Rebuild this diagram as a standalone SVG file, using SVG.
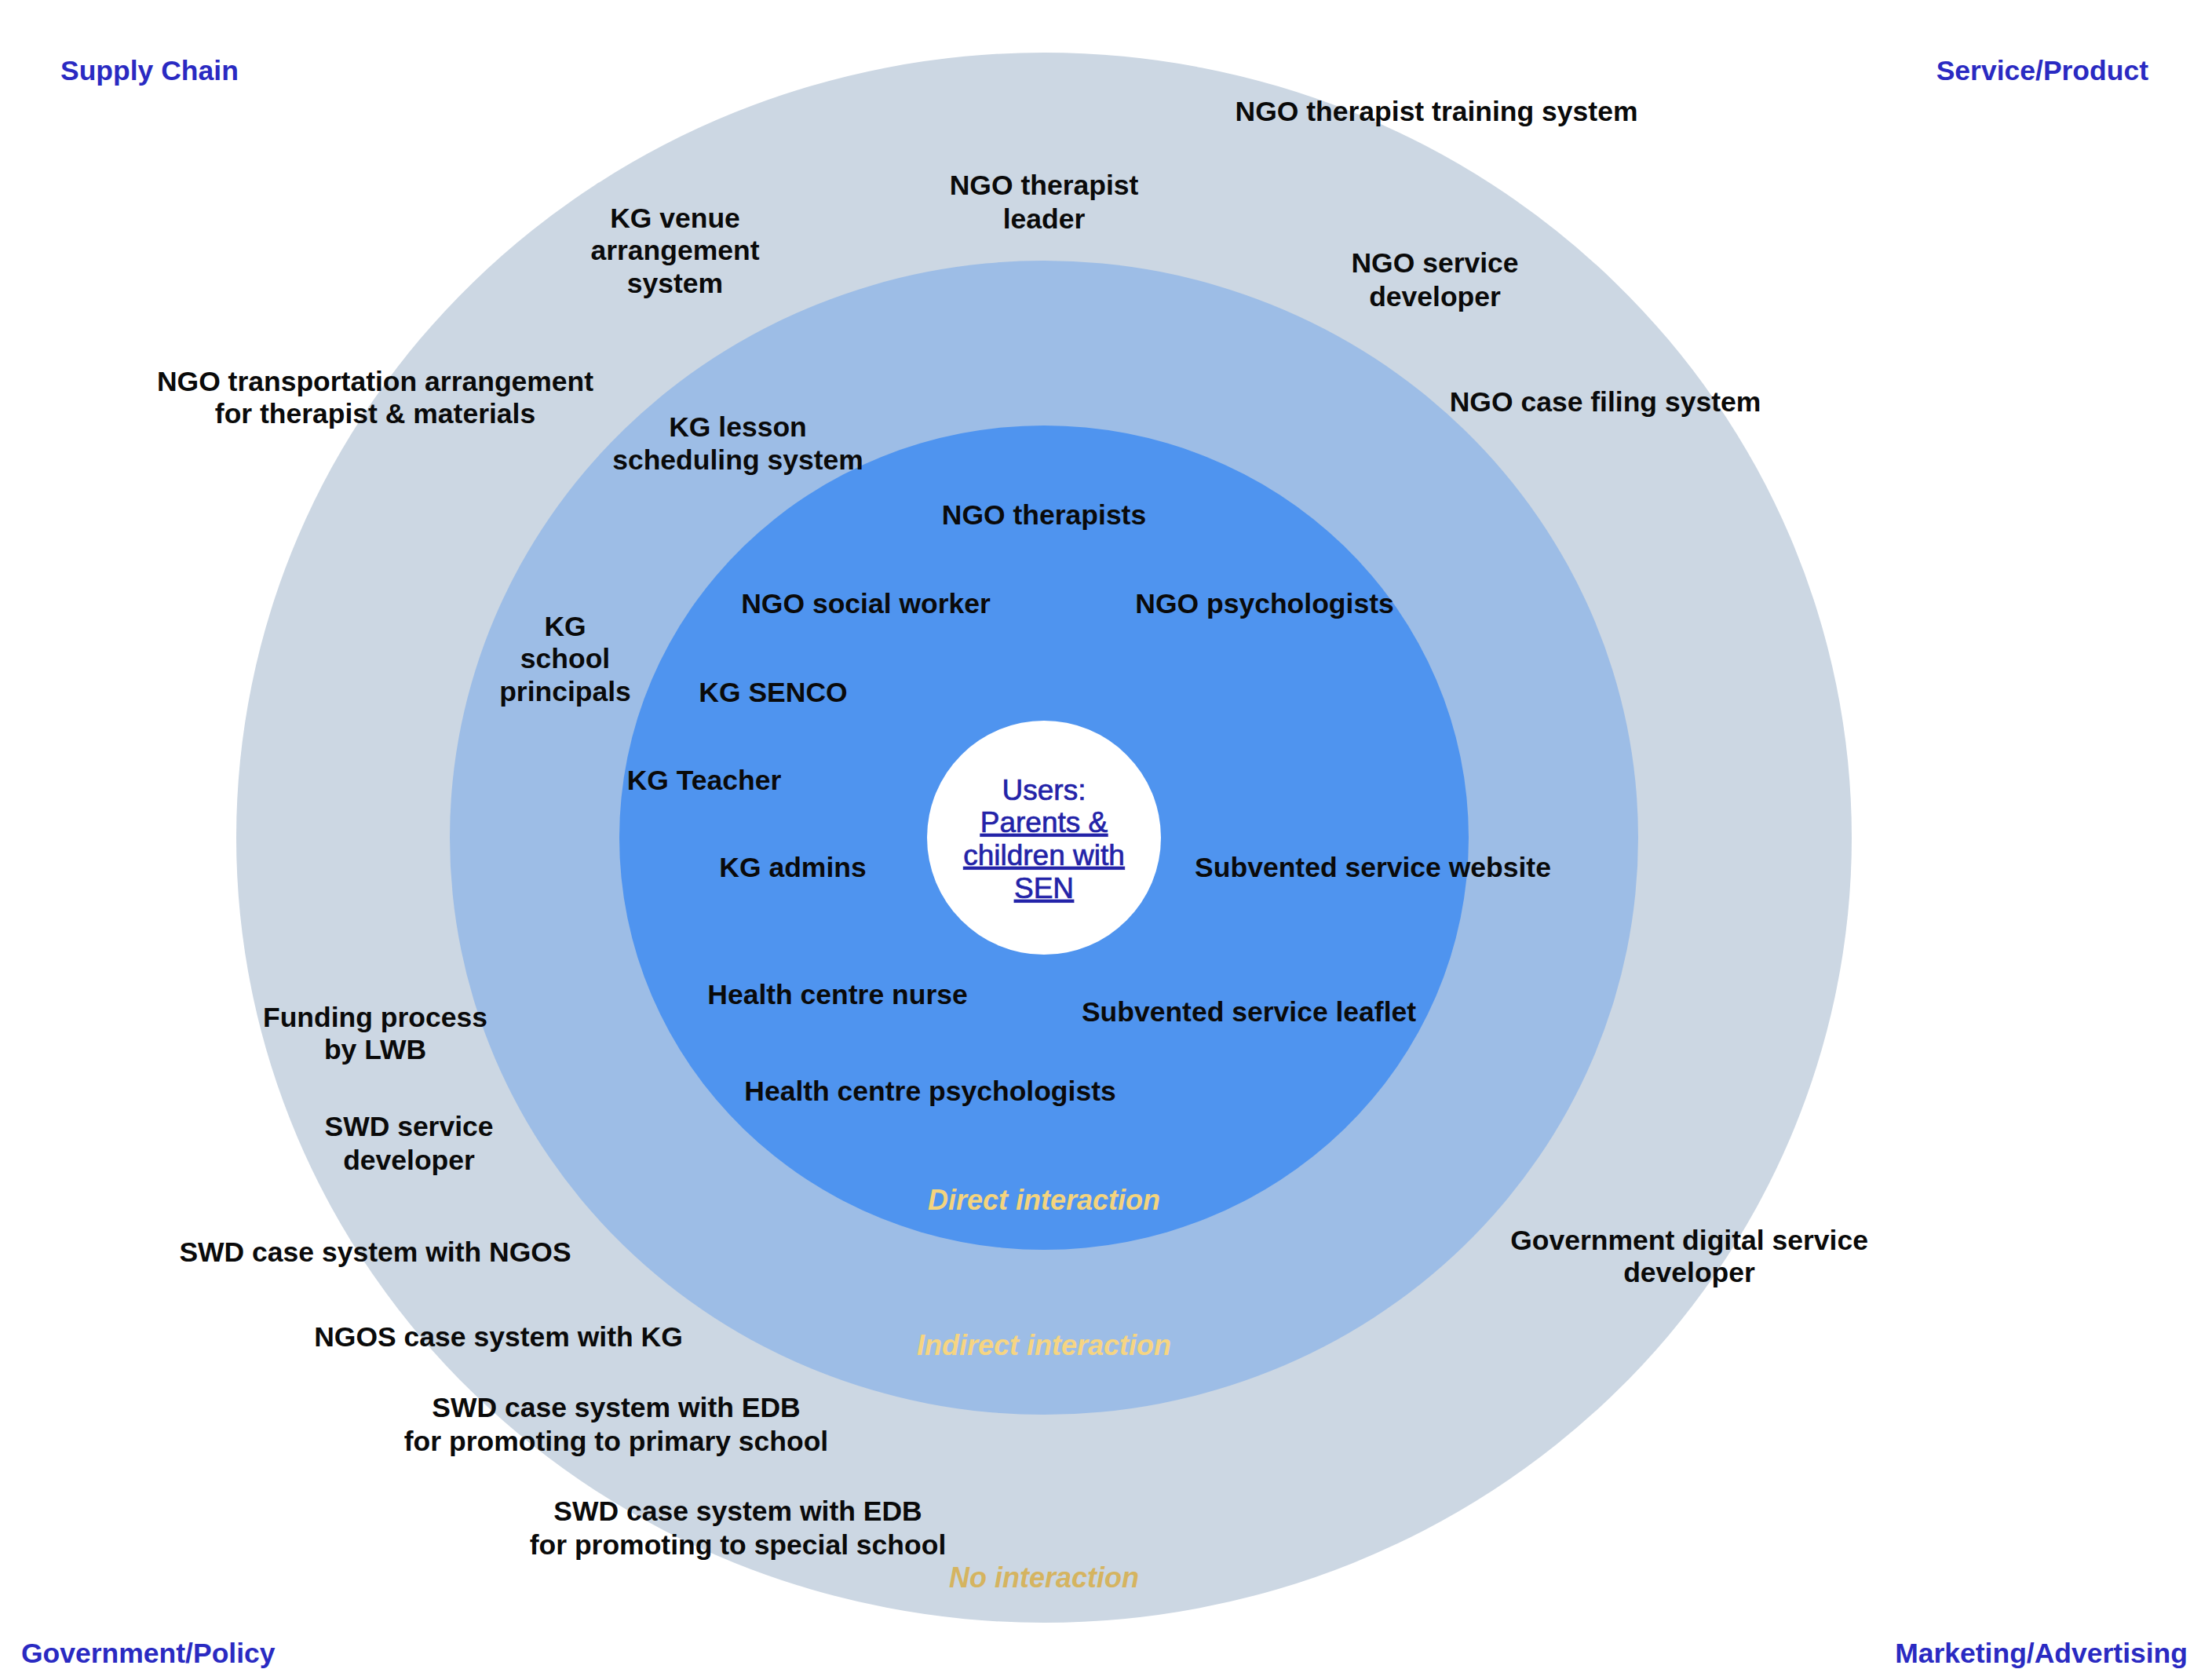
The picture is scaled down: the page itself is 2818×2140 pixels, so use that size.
<svg xmlns="http://www.w3.org/2000/svg" width="2818" height="2140" viewBox="0 0 2818 2140">
<style>
  text { font-family: "Liberation Sans", Arial, sans-serif; }
  .lbl { font-size: 35.5px; font-weight: bold; fill: #0a0a0a; text-anchor: middle; }
  .corner { font-size: 35.5px; font-weight: bold; fill: #2a2ac2; }
  .zone { font-size: 36px; font-weight: bold; font-style: italic; text-anchor: middle; }
  .users { font-size: 37px; fill: #2323a8; stroke: #2323a8; stroke-width: 0.7px; text-anchor: middle; }
</style>
<rect x="0" y="0" width="2818" height="2140" fill="#ffffff"/>
<g id="ring-none"><ellipse cx="1330" cy="1067" rx="1029" ry="1000" fill="#ccd7e3"/></g>
<g id="ring-indirect"><ellipse cx="1330" cy="1067" rx="757" ry="735" fill="#9dbde6"/></g>
<g id="ring-direct"><ellipse cx="1330" cy="1067" rx="541" ry="525" fill="#4f94ef"/></g>
<g id="users"><circle cx="1330" cy="1067" r="149" fill="#ffffff"/>
  <text class="users" x="1330" y="1019">Users:</text>
  <text class="users" x="1330" y="1060" text-decoration="underline">Parents &amp;</text>
  <text class="users" x="1330" y="1102" text-decoration="underline">children with</text>
  <text class="users" x="1330" y="1144" text-decoration="underline">SEN</text>
</g>

<g id="corner-supply"><text class="corner" x="77" y="102">Supply Chain</text></g>
<g id="corner-service"><text class="corner" x="2737" y="102" text-anchor="end">Service/Product</text></g>
<g id="corner-government"><text class="corner" x="27" y="2118">Government/Policy</text></g>
<g id="corner-marketing"><text class="corner" x="2787" y="2118" text-anchor="end">Marketing/Advertising</text></g>

<g id="zone-direct"><text class="zone" x="1330" y="1541" fill="#f4d47e">Direct interaction</text></g>
<g id="zone-indirect"><text class="zone" x="1330" y="1726" fill="#f6d582">Indirect interaction</text></g>
<g id="zone-none"><text class="zone" x="1330" y="2022" fill="#d5b460">No interaction</text></g>

<g id="n-ngo-training"><text class="lbl" x="1830" y="154">NGO therapist training system</text></g>
<g id="n-ngo-leader"><text class="lbl" x="1330" y="248">NGO therapist</text><text class="lbl" x="1330" y="291">leader</text></g>
<g id="n-kg-venue"><text class="lbl" x="860" y="290">KG venue</text><text class="lbl" x="860" y="331">arrangement</text><text class="lbl" x="860" y="373">system</text></g>
<g id="n-ngo-service-dev"><text class="lbl" x="1828" y="347">NGO service</text><text class="lbl" x="1828" y="390">developer</text></g>
<g id="n-ngo-transport"><text class="lbl" x="478" y="498">NGO transportation arrangement</text><text class="lbl" x="478" y="539">for therapist &amp; materials</text></g>
<g id="n-ngo-case-filing"><text class="lbl" x="2045" y="524">NGO case filing system</text></g>
<g id="n-kg-lesson"><text class="lbl" x="940" y="556">KG lesson</text><text class="lbl" x="940" y="598">scheduling system</text></g>
<g id="n-ngo-therapists"><text class="lbl" x="1330" y="668">NGO therapists</text></g>
<g id="n-ngo-social"><text class="lbl" x="1103" y="781">NGO social worker</text></g>
<g id="n-ngo-psych"><text class="lbl" x="1611" y="781">NGO psychologists</text></g>
<g id="n-kg-principals"><text class="lbl" x="720" y="810">KG</text><text class="lbl" x="720" y="851">school</text><text class="lbl" x="720" y="893">principals</text></g>
<g id="n-kg-senco"><text class="lbl" x="985" y="894">KG SENCO</text></g>
<g id="n-kg-teacher"><text class="lbl" x="897" y="1006">KG Teacher</text></g>
<g id="n-kg-admins"><text class="lbl" x="1010" y="1117">KG admins</text></g>
<g id="n-website"><text class="lbl" x="1749" y="1117">Subvented service website</text></g>
<g id="n-nurse"><text class="lbl" x="1067" y="1279">Health centre nurse</text></g>
<g id="n-leaflet"><text class="lbl" x="1591" y="1301">Subvented service leaflet</text></g>
<g id="n-hc-psych"><text class="lbl" x="1185" y="1402">Health centre psychologists</text></g>
<g id="n-funding"><text class="lbl" x="478" y="1308">Funding process</text><text class="lbl" x="478" y="1349">by LWB</text></g>
<g id="n-swd-dev"><text class="lbl" x="521" y="1447">SWD service</text><text class="lbl" x="521" y="1490">developer</text></g>
<g id="n-swd-ngos"><text class="lbl" x="478" y="1607">SWD case system with NGOS</text></g>
<g id="n-ngos-kg"><text class="lbl" x="635" y="1715">NGOS case system with KG</text></g>
<g id="n-swd-primary"><text class="lbl" x="785" y="1805">SWD case system with EDB</text><text class="lbl" x="785" y="1848">for promoting to primary school</text></g>
<g id="n-swd-special"><text class="lbl" x="940" y="1937">SWD case system with EDB</text><text class="lbl" x="940" y="1980">for promoting to special school</text></g>
<g id="n-gov-digital"><text class="lbl" x="2152" y="1592">Government digital service</text><text class="lbl" x="2152" y="1633">developer</text></g>
</svg>
